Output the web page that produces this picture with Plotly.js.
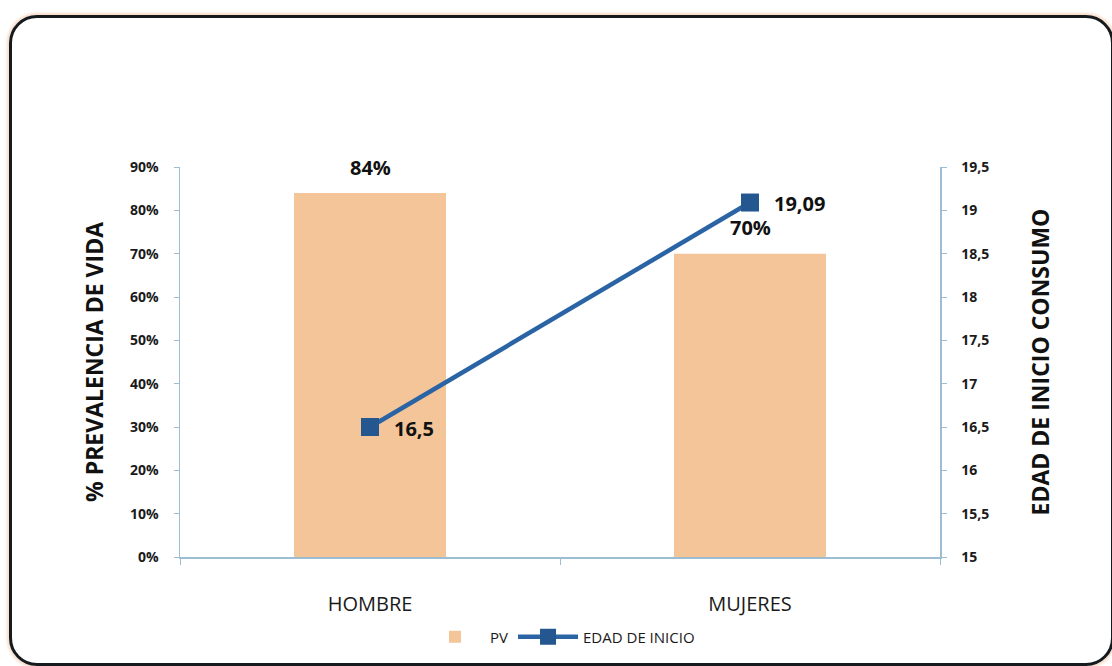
<!DOCTYPE html>
<html>
<head>
<meta charset="utf-8">
<script src="https://cdn.plot.ly/plotly-3.0.1.min.js"></script>
<style>
  html, body { margin:0; padding:0; background:#fff; }
  #wrap { position:relative; width:1112px; height:666px; overflow:hidden; background:#fff; }
  #frame { position:absolute; left:9px; top:15px; width:1099px; height:645px; border:3px solid #151a1e; border-radius:28px; box-shadow:0 0 3px 2px #f7d9c6; }
  #chart { position:absolute; left:0; top:0; width:1112px; height:666px; }
</style>
</head>
<body>
<div id="wrap">
  <div id="frame"></div>
  <div id="chart"></div>
</div>
<script>
const categories = ['HOMBRE', 'MUJERES'];
const pv = [0.84, 0.70];
const edadInicio = [16.5, 19.09];
const leftTicks = [0, 0.1, 0.2, 0.3, 0.4, 0.5, 0.6, 0.7, 0.8, 0.9];
const rightTicks = [15, 15.5, 16, 16.5, 17, 17.5, 18, 18.5, 19, 19.5];

const pvText = pv.map(v => Math.round(v * 100) + '%');
const edadText = edadInicio.map(v => String(v).replace('.', ','));
const FAM = 'Open Sans, DejaVu Sans, sans-serif';
const tickFont = {family: FAM, size: 14, color: '#1a1a1a', weight: 'bold'};
const labelFont = {family: FAM, size: 20, color: '#111', weight: 'bold'};

const traces = [
  {
    type: 'bar', name: 'PV', x: categories, y: pv,
    marker: {color: '#f5c59a'}, width: 0.4,
    hoverinfo: 'skip'
  },
  {
    type: 'scatter', mode: 'lines+markers', name: 'EDAD DE INICIO',
    x: categories, y: edadInicio, yaxis: 'y2',
    line: {color: '#2a64a4', width: 4.5},
    marker: {symbol: 'square', size: 18, color: '#24578f'},
    cliponaxis: false,
    hoverinfo: 'skip'
  }
];

const annotations = [];
categories.forEach((c, i) => {
  annotations.push({x: c, y: pv[i], xref: 'x', yref: 'y', text: pvText[i], showarrow: false,
    yshift: 26, font: labelFont});
  annotations.push({x: c, y: edadInicio[i], xref: 'x', yref: 'y2', text: edadText[i], showarrow: false,
    xanchor: 'left', xshift: 22, yshift: -1, font: labelFont});
});

const axisLine = '#9dbdd3';
const layout = {
  width: 1112, height: 666,
  paper_bgcolor: 'rgba(0,0,0,0)', plot_bgcolor: 'rgba(0,0,0,0)',
  separators: ',.',
  margin: {l: 180, r: 172, t: 167, b: 104},
  showlegend: true,
  legend: {orientation: 'h', x: 0.5, xanchor: 'center', y: -0.205, yanchor: 'middle',
           font: {family: FAM, size: 15, color: '#1a1a1a'}, itemwidth: 60},
  annotations: annotations,
  xaxis: {
    type: 'category', showline: true, linecolor: axisLine, linewidth: 1.5,
    ticks: 'outside', tickson: 'boundaries', ticklen: 6, tickcolor: axisLine,
    tickfont: {family: FAM, size: 20, color: '#1a1a1a'}, ticklabelstandoff: 28,
    showgrid: false, zeroline: false
  },
  yaxis: {
    range: [0, 0.9], tickvals: leftTicks, tickformat: '.0%',
    showline: true, linecolor: axisLine, linewidth: 1.5, ticks: 'outside', ticklen: 5, tickcolor: axisLine,
    tickfont: tickFont, showgrid: false, zeroline: false, ticklabelstandoff: 12,
    title: {text: '% PREVALENCIA DE VIDA', standoff: 20,
            font: {family: FAM, size: 23, color: '#111', weight: 'bold'}}
  },
  yaxis2: {
    range: [15, 19.5], tickvals: rightTicks, overlaying: 'y', side: 'right',
    showline: true, linecolor: axisLine, linewidth: 1.5, ticks: 'outside', ticklen: 5, tickcolor: axisLine,
    tickfont: tickFont, showgrid: false, zeroline: false, ticklabelstandoff: 12,
    title: {text: 'EDAD DE INICIO CONSUMO', standoff: 44,
            font: {family: FAM, size: 23, color: '#111', weight: 'bold'}}
  }
};

Plotly.newPlot('chart', traces, layout, {displayModeBar: false, staticPlot: true});
</script>
</body>
</html>
